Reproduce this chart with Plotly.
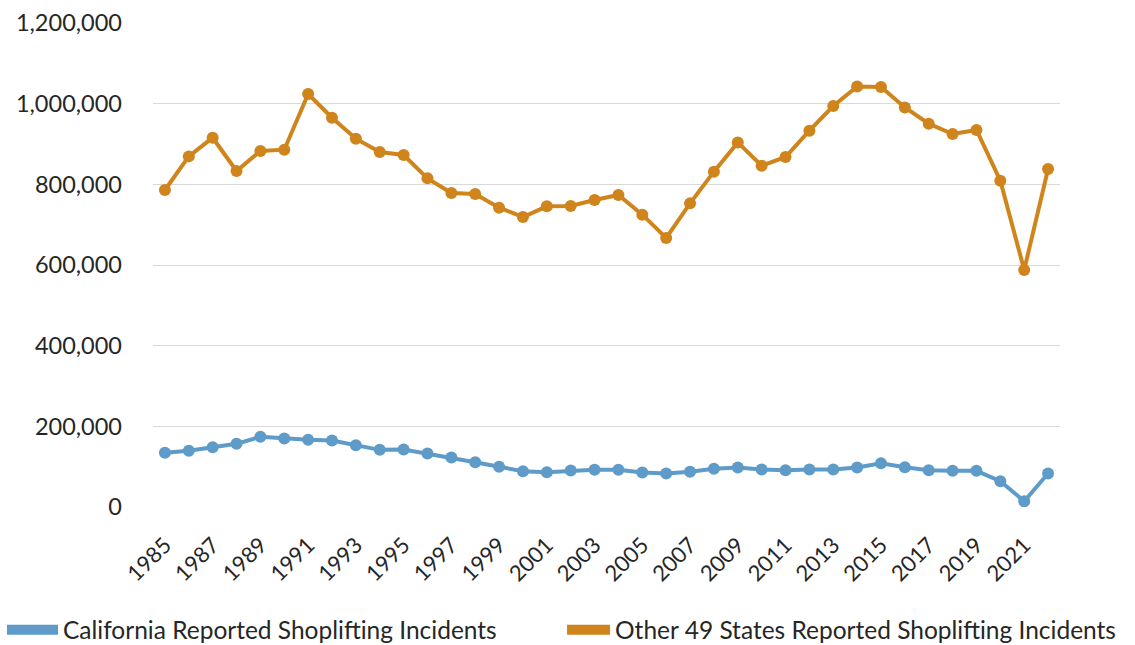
import plotly.graph_objects as go

years = [str(y) for y in range(1985, 2023)]
tick_years = [str(y) for y in range(1985, 2023, 2)]

california = [134300, 139300, 148200, 156600, 174000, 169700, 166500, 164800, 153200, 141700,
              142500, 132600, 122700, 111000, 99600, 88700, 86200, 90400, 92200, 92200,
              85500, 83000, 87200, 94700, 97900, 92900, 91200, 92900, 92900, 97900,
              108500, 98600, 91200, 89700, 89700, 63900, 14400, 83000]

other49 = [786000, 869300, 915600, 833100, 882600, 885900, 1023900, 965200, 913100, 880200,
           872700, 814800, 778600, 776100, 742200, 719100, 745400, 746400, 761200, 773600,
           724800, 667000, 752800, 831400, 904000, 846200, 867800, 933000, 994100, 1042800,
           1041200, 990700, 950300, 924800, 934700, 809100, 587800, 838100]

y_ticks = [0, 200000, 400000, 600000, 800000, 1000000, 1200000]
y_tick_text = ["0", "200,000", "400,000", "600,000", "800,000", "1,000,000", "1,200,000"]

names = ["California Reported Shoplifting Incidents", "Other 49 States Reported Shoplifting Incidents"]
blue = "#5E9BC8"
orange = "#CF841C"
FONT = "Lato"
TXT = "#262626"

fig = go.Figure()
fig.add_trace(go.Scatter(x=years, y=california, mode="lines+markers", name=names[0],
                         line=dict(color=blue, width=4), marker=dict(color=blue, size=12),
                         showlegend=False))
fig.add_trace(go.Scatter(x=years, y=other49, mode="lines+markers", name=names[1],
                         line=dict(color=orange, width=4), marker=dict(color=orange, size=12),
                         showlegend=False))
# legend entries (thick bar symbol)
fig.add_trace(go.Scatter(x=[None], y=[None], mode="lines", name=names[0],
                         line=dict(color=blue, width=11), legend="legend"))
fig.add_trace(go.Scatter(x=[None], y=[None], mode="lines", name=names[1],
                         line=dict(color=orange, width=11), legend="legend2"))

fig.update_layout(
    width=1135, height=645,
    margin=dict(l=153, r=75, t=23, b=138, autoexpand=False),
    plot_bgcolor="white", paper_bgcolor="white",
    font=dict(family=FONT, size=20, color=TXT),
    xaxis=dict(type="category", categoryorder="array", categoryarray=years,
               range=[-0.5, len(years) - 0.5],
               tickmode="array", tickvals=tick_years, ticktext=tick_years,
               tickangle=-45, showgrid=False, zeroline=False, showline=False,
               ticks="", ticklabelstandoff=20, automargin=False,
               tickfont=dict(size=22, family=FONT, color=TXT)),
    yaxis=dict(range=[0, 1200000], tickmode="array", tickvals=y_ticks, ticktext=y_tick_text,
               showgrid=True, gridcolor="#D9D9D9", gridwidth=1.3, zeroline=False,
               showline=False, ticks="", ticklabelstandoff=30, automargin=False,
               tickfont=dict(size=23.5, family=FONT, color=TXT)),
    legend=dict(orientation="h", x=-0.1665, xanchor="left", y=-0.254, yanchor="middle",
                font=dict(size=24.5, family=FONT, color=TXT),
                itemwidth=51, bgcolor="rgba(0,0,0,0)"),
    legend2=dict(orientation="h", x=0.451, xanchor="left", y=-0.254, yanchor="middle",
                 font=dict(size=24.5, family=FONT, color=TXT),
                 itemwidth=43, bgcolor="rgba(0,0,0,0)"),
)

fig.write_html("out.html")
